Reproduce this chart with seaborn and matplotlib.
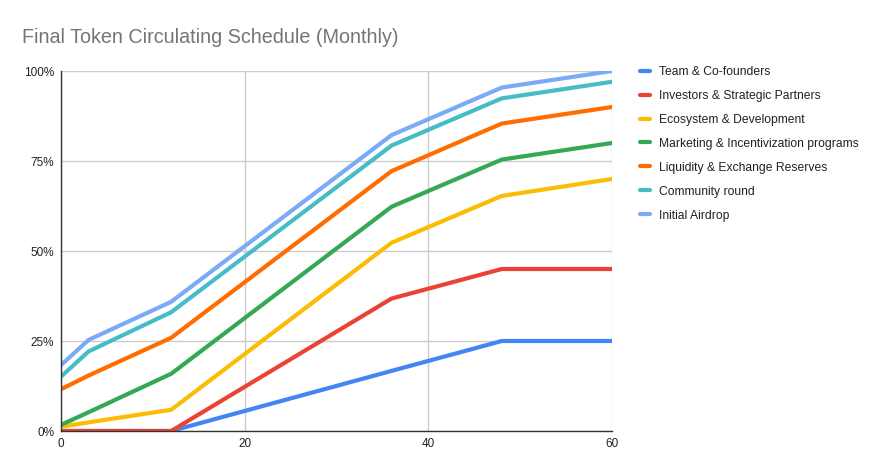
import pandas as pd
import numpy as np
import matplotlib
matplotlib.use('Agg')
import matplotlib.pyplot as plt
import seaborn as sns
from matplotlib.ticker import FuncFormatter

sns.set_style('white')
plt.rcParams['font.family'] = ['Liberation Sans', 'DejaVu Sans']

# Meses
months = [0, 3, 12, 36, 48, 60]

# Porcentaje circulante por categoria
team = [0, 0, 0, 16.7, 25, 25]
investors = [0, 0, 0, 36.8, 45, 45]
ecosystem = [1.2, 2.4, 5.9, 52.3, 65.3, 70]
marketing = [1.7, 5.2, 15.9, 62.3, 75.4, 80]
liquidity = [11.6, 15.4, 25.9, 72.2, 85.4, 90]
community = [15.1, 22.1, 33.0, 79.3, 92.4, 97]
airdrop = [18.3, 25.3, 35.9, 82.2, 95.4, 100]

series_names = ['Team & Co-founders', 'Investors & Strategic Partners', 'Ecosystem & Development',
                'Marketing & Incentivization programs', 'Liquidity & Exchange Reserves',
                'Community round', 'Initial Airdrop']
series_values = [team, investors, ecosystem, marketing, liquidity, community, airdrop]
colors = ['#4285F4', '#EA4335', '#FBBC04', '#34A853', '#FF6D01', '#46BDC6', '#7BAAF7']

rows = []
for name, vals in zip(series_names, series_values):
    for m, v in zip(months, vals):
        rows.append({'month': m, 'pct': v, 'serie': name})
df = pd.DataFrame(rows)

fig = plt.figure(figsize=(8.82, 4.76), dpi=100)
ax = fig.add_axes([61/882, 1 - 431/476, 551/882, 360/476])

sns.lineplot(data=df, x='month', y='pct', hue='serie', hue_order=series_names,
             palette=colors, linewidth=3, ax=ax, legend=True, zorder=3)

ax.set_xlim(0, 60)
ax.set_ylim(0, 100)
ax.set_xticks([0, 20, 40, 60])
ax.set_yticks([0, 25, 50, 75, 100])
ax.yaxis.set_major_formatter(FuncFormatter(lambda v, p: f'{int(v)}%'))
ax.set_xlabel('')
ax.set_ylabel('')
ax.grid(True, color='#cccccc', linewidth=1)
ax.tick_params(axis='both', length=0, labelsize=8.5, colors='#222222', pad=5)
for s in ['top', 'right']:
    ax.spines[s].set_visible(False)
for s in ['left', 'bottom']:
    ax.spines[s].set_color('#333333')
    ax.spines[s].set_linewidth(1)
    ax.spines[s].set_zorder(4)

# Leyenda a la derecha
handles, labels = ax.get_legend_handles_labels()
for h in handles:
    h.set_linewidth(3)
ax.legend(handles, labels, loc='upper left', bbox_to_anchor=(635/882, 1 - 61/476),
          bbox_transform=fig.transFigure, frameon=False, fontsize=8.7,
          handlelength=0.85, handletextpad=0.75, labelspacing=0.99, borderaxespad=0,
          labelcolor='#222222')

fig.text(22/882, 1 - 38/476, 'Final Token Circulating Schedule (Monthly)', fontsize=14.2,
         color='#757575', va='center', ha='left')

fig.savefig('out.png', dpi=100, facecolor='white')
